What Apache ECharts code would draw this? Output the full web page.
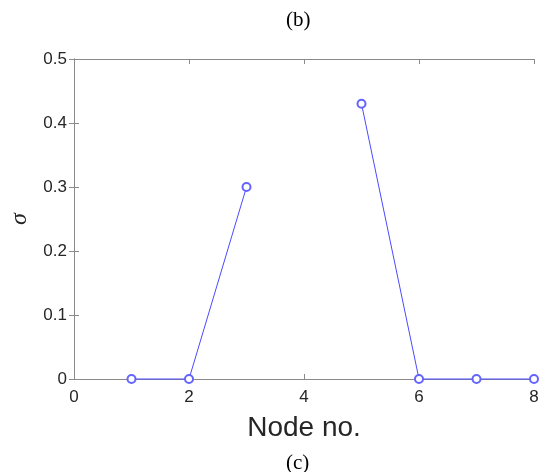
<!DOCTYPE html>
<html>
<head>
<meta charset="utf-8">
<script src="https://cdn.jsdelivr.net/npm/echarts@6/dist/echarts.min.js"></script>
<style>
  html, body { margin: 0; padding: 0; background: #fff; }
  #chart { width: 550px; height: 472px; }
</style>
</head>
<body>
<div id="chart"></div>
<script>
// nodos y valores de sigma (nodo 4 sin dato)
const nodes = [1, 2, 3, 4, 5, 6, 7, 8];
const sigma = [0, 0, 0.3, null, 0.43, 0, 0, 0];
const xTicks = [0, 2, 4, 6, 8];
const yTicks = [0, 0.1, 0.2, 0.3, 0.4, 0.5];

const axisGray = "#8a8a8a";
const labelColor = "#262626";

const chart = echarts.init(document.getElementById("chart"));

const baseX = {
  type: "value",
  min: 0,
  max: 8,
  interval: 2,
  axisLine: { show: true, onZero: false, lineStyle: { color: axisGray, width: 1 } },
  axisTick: { show: true, inside: true, length: 5, lineStyle: { color: axisGray } },
  splitLine: { show: false },
};
const baseY = {
  type: "value",
  min: 0,
  max: 0.5,
  interval: 0.1,
  axisLine: { show: true, lineStyle: { color: axisGray, width: 1 } },
  axisTick: { show: true, inside: true, length: 5, lineStyle: { color: axisGray } },
  splitLine: { show: false },
};

const option = {
  animation: false,
  title: [
    {
      text: "(b)",
      left: 281,
      top: 5,
      textStyle: { fontFamily: "Liberation Serif", fontSize: 21, fontWeight: "normal", color: "#000" },
    },
    {
      text: "(c)",
      left: 281,
      top: 448,
      textStyle: { fontFamily: "Liberation Serif", fontSize: 21, fontWeight: "normal", color: "#000" },
    },
  ],
  grid: { left: 72, right: 16, top: 59, bottom: 93, containLabel: false },
  xAxis: [
    Object.assign({}, baseX, {
      position: "bottom",
      name: "Node no.",
      nameLocation: "middle",
      nameGap: 35,
      nameTextStyle: { fontFamily: "Liberation Sans", fontSize: 28, color: labelColor },
      axisLabel: {
        fontFamily: "Liberation Sans",
        fontSize: 17,
        color: labelColor,
        margin: 10,
        formatter: (v) => (xTicks.includes(v) ? String(v) : ""),
      },
    }),
    Object.assign({}, baseX, { position: "top", axisLabel: { show: false } }),
  ],
  yAxis: [
    Object.assign({}, baseY, {
      position: "left",
      name: "σ",
      nameLocation: "middle",
      nameGap: 42,
      nameTextStyle: { fontFamily: "Liberation Serif", fontStyle: "italic", fontSize: 24, color: labelColor },
      axisLabel: {
        fontFamily: "Liberation Sans",
        fontSize: 17,
        color: labelColor,
        margin: 7,
        formatter: (v) => {
          const t = yTicks.find((y) => Math.abs(y - v) < 1e-9);
          return t === undefined ? "" : (t === 0 ? "0" : t.toFixed(1));
        },
      },
    }),
    Object.assign({}, baseY, { position: "right", axisLabel: { show: false } }),
  ],
  series: [
    {
      name: "sigma",
      type: "line",
      data: nodes.map((n, i) => [n, sigma[i]]),
      connectNulls: false,
      symbol: "emptyCircle",
      symbolSize: 8,
      showSymbol: true,
      clip: false,
      lineStyle: { color: "#4a4aff", width: 1 },
      itemStyle: { color: "#6464ff", borderColor: "#6464ff", borderWidth: 0.8 },
      z: 5,
    },
  ],
};

chart.setOption(option);
window.addEventListener("resize", chart.resize);
</script>
</body>
</html>
